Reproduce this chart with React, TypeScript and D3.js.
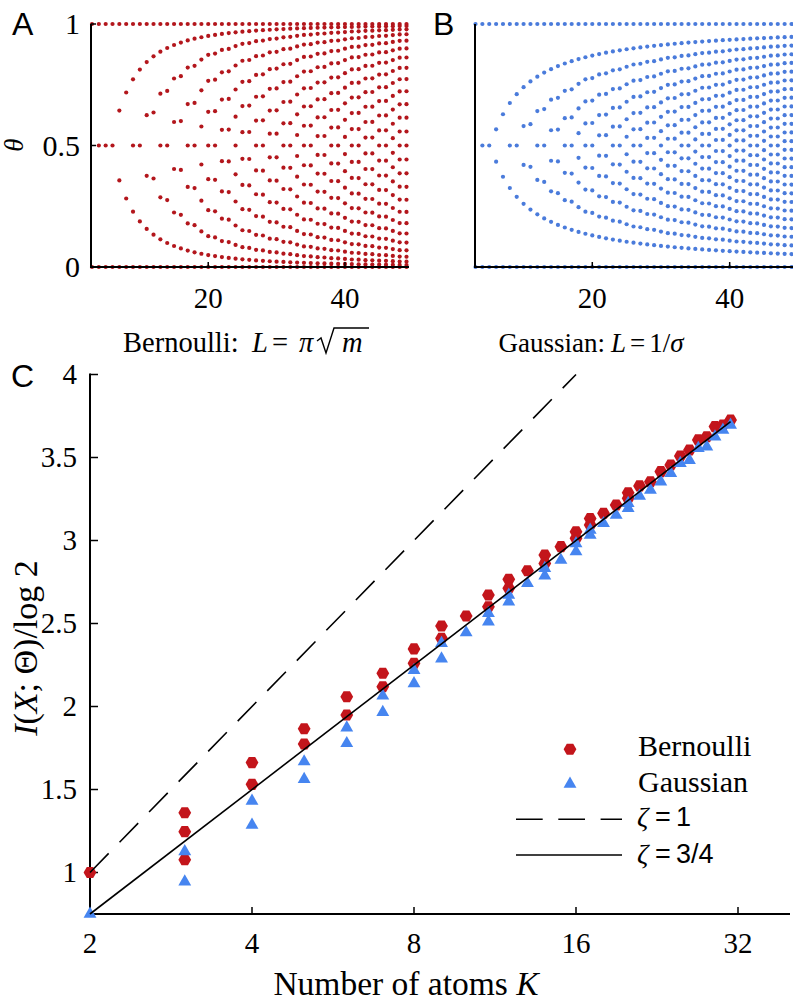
import React, { useMemo } from "react";
import * as d3 from "d3";

// ---------------- data ----------------
// Panels A / B : one column of atoms per value of L
const columnL = [3, 4, 5, 6, 7, 8, 9, 10, 11, 12, 13, 14, 15, 16, 17, 18, 19, 20, 21, 22, 23, 24, 25, 26, 27, 28, 29, 30, 31, 32, 33, 34, 35, 36, 37, 38, 39, 40, 41, 42, 43, 44, 45, 46, 47, 48, 49];
// number of atoms K read for every column
const bernoulliAtomCount = [2, 3, 3, 3, 4, 4, 5, 5, 6, 6, 7, 7, 8, 8, 9, 9, 10, 11, 11, 12, 12, 13, 14, 14, 15, 15, 16, 16, 17, 17, 18, 19, 19, 20, 20, 21, 21, 22, 23, 23, 24, 24, 25, 25, 26, 27, 27];
const gaussianAtomCount = [2, 3, 3, 4, 4, 5, 5, 6, 6, 7, 7, 8, 8, 9, 9, 10, 11, 11, 12, 12, 13, 13, 14, 15, 15, 16, 16, 17, 18, 18, 19, 19, 20, 21, 21, 22, 22, 23, 24, 24, 25, 25, 26, 27, 27, 28, 28];
// distance (in units of L) of the outermost interior atom from the boundary
const bernoulliEdgeGap = 2.85;
const gaussianEdgeGap = 2.6;
const panelXTicks = [20, 40];
const panelYTicks = [0, 0.5, 1];
const panelYTickLabels = ["0", "0.5", "1"];

// Panel C : mutual information vs number of atoms
const bernoulliK = [2, 3, 3, 3, 4, 4, 5, 5, 6, 6, 7, 7, 8, 8, 9, 9, 10, 11, 11, 12, 12, 13, 14, 14, 15, 16, 16, 17, 17, 18, 19, 20, 20, 21, 22, 23, 24, 25, 26, 27, 28, 29, 30, 31];
const bernoulliInfo = [1.0, 1.36, 1.246, 1.077, 1.662, 1.531, 1.866, 1.774, 2.059, 1.949, 2.2, 2.119, 2.347, 2.26, 2.485, 2.411, 2.545, 2.672, 2.601, 2.766, 2.712, 2.818, 2.913, 2.862, 2.963, 3.053, 3.013, 3.133, 3.094, 3.164, 3.214, 3.288, 3.254, 3.329, 3.354, 3.415, 3.455, 3.509, 3.545, 3.606, 3.625, 3.686, 3.695, 3.726];
const gaussianK = [2, 3, 3, 4, 4, 5, 5, 6, 6, 7, 7, 8, 8, 9, 9, 10, 11, 11, 12, 12, 13, 14, 14, 15, 16, 16, 17, 17, 18, 19, 20, 20, 21, 22, 23, 24, 25, 26, 27, 28, 29, 30, 31];
const gaussianInfo = [0.75, 1.127, 0.944, 1.431, 1.286, 1.668, 1.562, 1.872, 1.778, 2.064, 1.965, 2.218, 2.139, 2.381, 2.288, 2.445, 2.562, 2.511, 2.672, 2.631, 2.742, 2.833, 2.788, 2.882, 2.982, 2.933, 3.063, 3.033, 3.103, 3.153, 3.224, 3.194, 3.268, 3.304, 3.354, 3.405, 3.465, 3.484, 3.556, 3.565, 3.625, 3.666, 3.696];
const zetaLines = [
  { zeta: 1, kFrom: 2, kTo: 16, dashed: true, label: "1" },
  { zeta: 0.75, kFrom: 2, kTo: 31, dashed: false, label: "3/4" },
];
const cXTicks = [2, 4, 8, 16, 32];
const cYTicks = [1, 1.5, 2, 2.5, 3, 3.5, 4];

// ---------------- helpers ----------------
const SERIF = "'Liberation Serif', 'Times New Roman', serif";
const SANS = "'Liberation Sans', Arial, sans-serif";
const RED_DOT = "#b3161c";
const BLUE_DOT = "#4a7bdb";
const RED_MK = "#c3151b";
const BLUE_MK = "#4685f0";
const serif = { fontFamily: SERIF };
const sans = { fontFamily: SANS };

// positions of the K atoms along the (Fisher) length [0, L]
function atomLengths(L: number, K: number, edge: number): number[] {
  const out = [0, L];
  if (K === 3) out.push(L / 2);
  else if (K >= 4) {
    const g = (L - 2 * edge) / (K - 3);
    for (let j = 0; j <= K - 3; j++) out.push(edge + j * g);
  }
  return out;
}

const hexPath = (r: number) =>
  d3.range(6).map((i) => {
    const a = (i * Math.PI) / 3;
    return `${i === 0 ? "M" : "L"}${(r * Math.cos(a)).toFixed(2)},${(r * Math.sin(a)).toFixed(2)}`;
  }).join("") + "Z";

export default function App() {
  const xA = d3.scaleLinear().domain([3, 49]).range([92, 406.5]);
  const xB = d3.scaleLinear().domain([3, 49]).range([475.5, 791.5]);
  const yAB = d3.scaleLinear().domain([0, 1]).range([267, 24]);

  const xC = d3.scaleLog().base(2).domain([2, 32]).range([90, 738]);
  const yC = d3.scaleLinear().domain([0.75, 4]).range([914, 374.5]);

  const bernDots = useMemo(() => {
    const pts: { L: number; t: number }[] = [];
    columnL.forEach((L, i) => {
      atomLengths(L, bernoulliAtomCount[i], bernoulliEdgeGap).forEach((p) => {
        const s = Math.sin((Math.PI * p) / (2 * L));
        pts.push({ L, t: s * s });
      });
    });
    return pts;
  }, []);

  const gaussDots = useMemo(() => {
    const pts: { L: number; t: number }[] = [];
    columnL.forEach((L, i) => {
      atomLengths(L, gaussianAtomCount[i], gaussianEdgeGap).forEach((p) => {
        pts.push({ L, t: p / L });
      });
    });
    return pts;
  }, []);

  const hex = hexPath(6.4);
  const tri = d3.symbol(d3.symbolTriangle, 72)() as string;

  return (
    <svg
      width={793}
      height={1001}
      style={{ position: "absolute", left: 0, top: 0, background: "#fff" }}
    >
      <rect x={0} y={0} width={793} height={1001} fill="#fff" />

      {/* ---------------- Panel A ---------------- */}
      <text x={12} y={35} style={sans} fontSize={32}>A</text>
      <g>
        {bernDots.map((d, i) => (
          <circle key={i} cx={xA(d.L)} cy={yAB(d.t)} r={2.1} fill={RED_DOT} />
        ))}
        <line x1={91} x2={91} y1={24} y2={267} stroke="#000" strokeWidth={2} />
        <line x1={90} x2={409} y1={267} y2={267} stroke="#000" strokeWidth={2} />
        {panelYTicks.map((t, i) => (
          <g key={t}>
            <line x1={91} x2={96} y1={yAB(t)} y2={yAB(t)} stroke="#000" strokeWidth={1.5} />
            <text x={80} y={yAB(t)} dy="0.34em" textAnchor="end" style={serif} fontSize={30}>{panelYTickLabels[i]}</text>
          </g>
        ))}
        {panelXTicks.map((t) => (
          <g key={t}>
            <line x1={xA(t)} x2={xA(t)} y1={267} y2={262} stroke="#000" strokeWidth={1.5} />
            <text x={xA(t)} y={308} textAnchor="middle" style={serif} fontSize={29}>{t}</text>
          </g>
        ))}
        <text transform="translate(23,145) rotate(-90)" textAnchor="middle" style={serif} fontSize={27} fontStyle="italic">θ</text>
        {/* caption */}
        <g fontSize={28.5} style={serif}>
          <text x={123} y={352} style={serif}>Bernoulli:</text>
          <text x={252} y={352} style={serif} fontStyle="italic">L</text>
          <text x={272} y={352} style={serif}>=</text>
          <text x={299} y={352} style={serif} fontStyle="italic">π</text>
          <path d="M317,341 L321,338 L326,353 L334,328 L369,328" fill="none" stroke="#000" strokeWidth={1.4} strokeLinejoin="miter" />
          <text x={342} y={352} style={serif} fontStyle="italic">m</text>
        </g>
      </g>

      {/* ---------------- Panel B ---------------- */}
      <text x={433} y={35} style={sans} fontSize={32}>B</text>
      <g>
        {gaussDots.map((d, i) => (
          <circle key={i} cx={xB(d.L)} cy={yAB(d.t)} r={2.1} fill={BLUE_DOT} />
        ))}
        <line x1={475} x2={475} y1={24} y2={267} stroke="#000" strokeWidth={2} />
        <line x1={474} x2={793} y1={267} y2={267} stroke="#000" strokeWidth={2} />
        {panelXTicks.map((t) => (
          <g key={t}>
            <line x1={xB(t)} x2={xB(t)} y1={267} y2={262} stroke="#000" strokeWidth={1.5} />
            <text x={xB(t)} y={308} textAnchor="middle" style={serif} fontSize={29}>{t}</text>
          </g>
        ))}
        <text x={591} y={352} textAnchor="middle" style={serif} fontSize={27}>
          Gaussian:
          <tspan dx={6} fontStyle="italic">L</tspan>
          <tspan dx={4}>=</tspan>
          <tspan dx={4}>1/</tspan>
          <tspan fontStyle="italic">σ</tspan>
        </text>
      </g>

      {/* ---------------- Panel C ---------------- */}
      <text x={11} y={387} style={sans} fontSize={32}>C</text>
      <g>
        <line x1={90} x2={90} y1={373.5} y2={915} stroke="#000" strokeWidth={2} />
        <line x1={89} x2={790} y1={914} y2={914} stroke="#000" strokeWidth={2} />
        {cYTicks.map((t) => (
          <g key={t}>
            <line x1={90} x2={98} y1={yC(t)} y2={yC(t)} stroke="#000" strokeWidth={1.5} />
            <text x={77} y={yC(t)} dy="0.34em" textAnchor="end" style={serif} fontSize={29}>{t}</text>
          </g>
        ))}
        {cXTicks.map((t) => (
          <g key={t}>
            <line x1={xC(t)} x2={xC(t)} y1={914} y2={907} stroke="#000" strokeWidth={1.5} />
            <text x={xC(t)} y={953} textAnchor="middle" style={serif} fontSize={29}>{t}</text>
          </g>
        ))}

        {bernoulliK.map((k, i) => (
          <path key={"b" + i} d={hex} transform={`translate(${xC(k)},${yC(bernoulliInfo[i])})`} fill={RED_MK} />
        ))}
        {gaussianK.map((k, i) => (
          <path key={"g" + i} d={tri} transform={`translate(${xC(k)},${yC(gaussianInfo[i])})`} fill={BLUE_MK} />
        ))}

        {zetaLines.map((z) => {
          const gen = d3
            .line<number>()
            .x((k) => xC(k))
            .y((k) => yC(z.zeta * Math.log2(k)));
          return (
            <path
              key={z.label}
              d={gen([z.kFrom, z.kTo]) as string}
              fill="none"
              stroke="#000"
              strokeWidth={1.6}
              strokeDasharray={z.dashed ? "26.7,15.6" : undefined}
            />
          );
        })}

        <text x={406} y={995} textAnchor="middle" style={serif} fontSize={33.5}>
          Number of atoms <tspan fontStyle="italic">K</tspan>
        </text>
        <text transform="translate(37,648) rotate(-90)" textAnchor="middle" style={serif} fontSize={34}>
          <tspan fontStyle="italic">I</tspan>(<tspan fontStyle="italic">X</tspan>; Θ)/log 2
        </text>

        {/* legend */}
        <path d={hex} transform="translate(570,749.3)" fill={RED_MK} />
        <text x={638} y={756} style={serif} fontSize={30}>Bernoulli</text>
        <path d={tri} transform="translate(570,784)" fill={BLUE_MK} />
        <text x={638} y={792} style={serif} fontSize={30}>Gaussian</text>
        {zetaLines.map((z, i) => {
          const y = i === 0 ? 819.3 : 855;
          const by = i === 0 ? 826 : 863;
          return (
            <g key={"lg" + z.label}>
              <line x1={516} x2={622} y1={y} y2={y} stroke="#000" strokeWidth={1.6} strokeDasharray={z.dashed ? "26.7,15.6" : undefined} />
              <text x={637} y={by} style={serif} fontSize={28} fontStyle="italic">ζ</text>
              <text x={655} y={by} style={sans} fontSize={27}>=</text>
              <text x={676} y={by} style={sans} fontSize={27}>{z.label}</text>
            </g>
          );
        })}
      </g>
    </svg>
  );
}
